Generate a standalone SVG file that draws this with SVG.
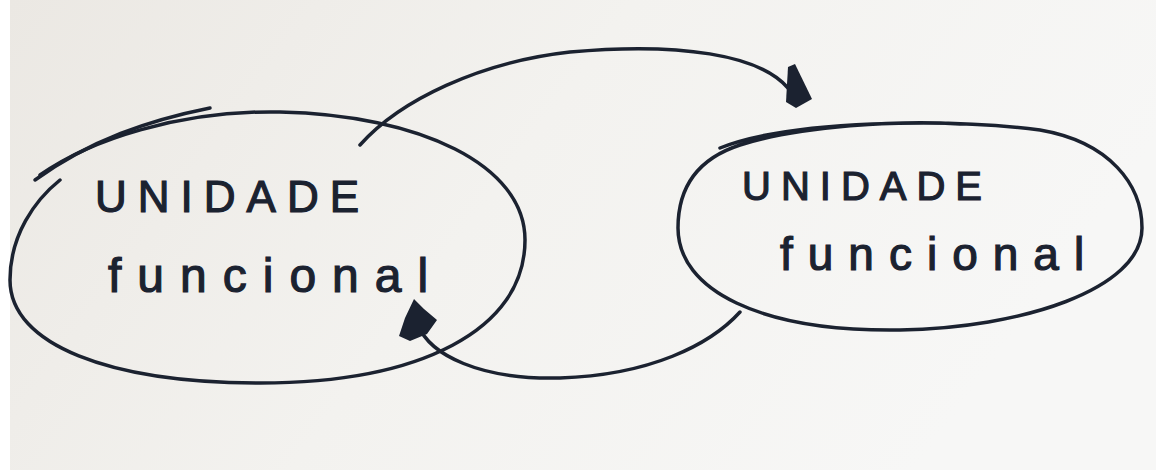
<svg xmlns="http://www.w3.org/2000/svg" width="1156" height="473" viewBox="0 0 1156 473">
<defs>
<linearGradient id="paper" x1="0" y1="0" x2="1" y2="0.3">
<stop offset="0" stop-color="#ebe8e3"/>
<stop offset="0.5" stop-color="#f3f2ef"/>
<stop offset="1" stop-color="#f7f7f6"/>
</linearGradient>
<style>
.ln{fill:none;stroke:#1b2230;stroke-width:3.5;stroke-linecap:round}
.hd{fill:#1b2230}
.tx{font-family:"Liberation Sans",Arial,sans-serif;fill:#1b2230;stroke:#1b2230;stroke-width:1.2}
</style>
</defs>
<rect width="1156" height="473" fill="#ffffff"/>
<rect x="10" y="0" width="1146" height="470" fill="url(#paper)"/>
<g id="node-left">
<path class="ln" d="M 40,175 C 90,140 180,110 280,112 C 420,115 525,165 525,240 C 525,330 420,383 260,383 C 110,383 10,345 10,280 C 10,235 35,200 60,180"/>
<path class="ln" d="M 35,180 C 90,140 150,120 210,108" stroke-width="2"/>
<text class="tx" x="95" y="212" font-size="44" letter-spacing="11">UNIDADE</text>
<text class="tx" x="108" y="292" font-size="48" letter-spacing="16">funcional</text>
</g>
<g id="node-right">
<path class="ln" d="M 720,148 C 790,120 950,118 1040,130 C 1110,142 1142,185 1142,228 C 1142,290 1020,328 900,330 C 760,332 678,290 678,228 C 678,185 700,158 740,145 C 800,126 900,120 960,124"/>
<text class="tx" x="742" y="200" font-size="40" letter-spacing="10">UNIDADE</text>
<text class="tx" x="780" y="270" font-size="46" letter-spacing="15">funcional</text>
</g>
<g id="connectors">
<path class="ln" d="M 360,145 C 400,100 480,62 570,52 C 680,42 760,55 788,88"/>
<polygon class="hd" points="788,67 795,64 812,99 796,108 786,102"/>
<path class="ln" d="M 740,312 C 710,345 650,375 560,378 C 480,380 430,355 418,325"/>
<polygon class="hd" points="414,299 424,309 437,320 427,334 410,341 399,336 405,318"/>
</g>
</svg>
